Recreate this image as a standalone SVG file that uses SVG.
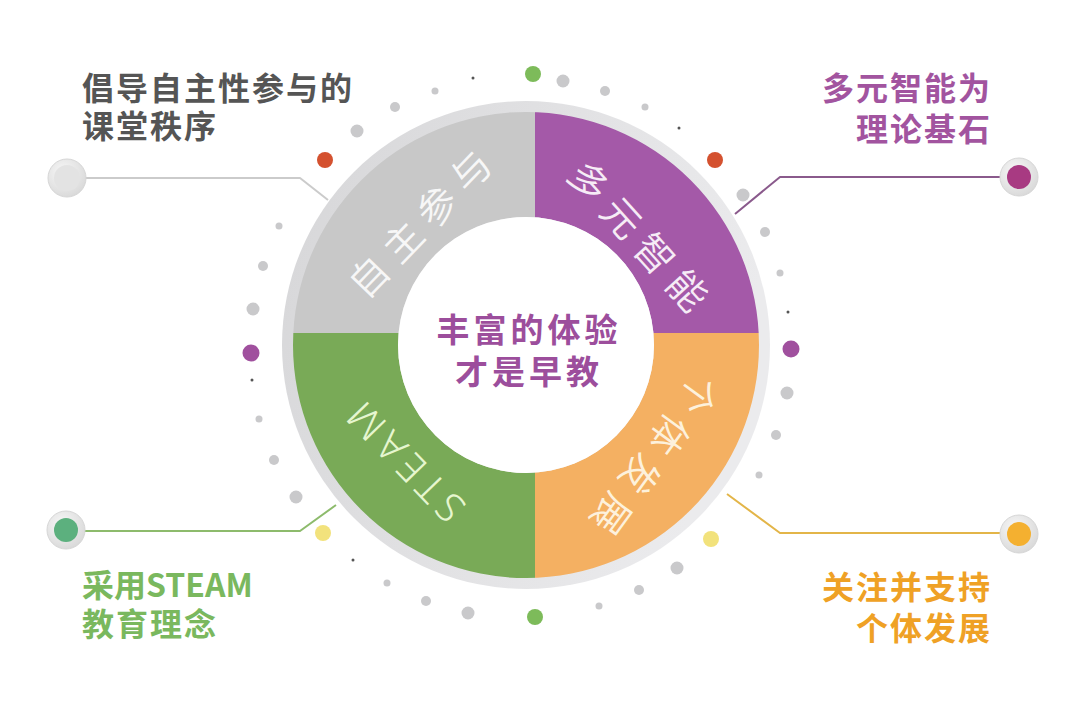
<svg xmlns="http://www.w3.org/2000/svg" width="1080" height="724" viewBox="0 0 1080 724">
<style>
.cn{font-family:"Noto Sans CJK SC","Noto Sans",sans-serif;}
.lbl{font-family:"Noto Sans CJK SC","Noto Sans",sans-serif;font-weight:bold;font-size:32px;letter-spacing:2px;}
.ring{font-family:"Noto Sans CJK SC","Noto Sans",sans-serif;font-weight:350;font-size:39px;letter-spacing:10px;text-anchor:middle;dominant-baseline:central;}
.g{fill:#c9c9cb}.d{fill:#555}.gr{fill:#7dbb5a}.rd{fill:#d4512f}.pu{fill:#a0509e}.ye{fill:#f2e27c}
.conn{fill:none;stroke-width:2;stroke-linejoin:round}
</style>
<defs>
<clipPath id="ann"><path clip-rule="evenodd" d="M293,345a233,233 0 1,0 466,0a233,233 0 1,0 -466,0ZM398,345a128,128 0 1,0 256,0a128,128 0 1,0 -256,0Z"/></clipPath>
<linearGradient id="og" x1="0" y1="0" x2="1" y2="0.3"><stop offset="0" stop-color="#d6d6d8"/><stop offset="1" stop-color="#ebebed"/></linearGradient>
<radialGradient id="nodeRing" cx="0.4" cy="0.35" r="0.7"><stop offset="0" stop-color="#f8f8f8"/><stop offset="1" stop-color="#d8d8d8"/></radialGradient>
</defs>
<rect width="1080" height="724" fill="#ffffff"/>

<g id="connectors">
<path class="conn" stroke="#cbcbcb" d="M85,178 L300,178 L328,200"/>
<path class="conn" stroke="#8a5a8c" d="M1000,177 L780,177 L735,214"/>
<path class="conn" stroke="#8dbb6c" d="M84,531 L300,531 L336,505"/>
<path class="conn" stroke="#e3b548" d="M1000,533 L780,533 L727,494"/>
</g>

<g id="dots">
<circle cx="533" cy="74" r="8" class="gr"/>
<circle cx="563" cy="81" r="6.5" class="g"/>
<circle cx="605" cy="91" r="5" class="g"/>
<circle cx="645" cy="107" r="3.5" class="g"/>
<circle cx="679" cy="128" r="1.5" class="d"/>
<circle cx="715" cy="160" r="8" class="rd"/>
<circle cx="743" cy="195" r="6.5" class="g"/>
<circle cx="765" cy="232" r="5" class="g"/>
<circle cx="780" cy="273" r="3.5" class="g"/>
<circle cx="788" cy="312" r="1.5" class="d"/>
<circle cx="791" cy="349" r="8.5" class="pu"/>
<circle cx="787" cy="393" r="6.5" class="g"/>
<circle cx="776" cy="435" r="5" class="g"/>
<circle cx="759" cy="475" r="3.5" class="g"/>
<circle cx="711" cy="539" r="8" class="ye"/>
<circle cx="677" cy="568" r="6.5" class="g"/>
<circle cx="639" cy="590" r="5" class="g"/>
<circle cx="599" cy="606" r="3.5" class="g"/>
<circle cx="535" cy="617" r="8" class="gr"/>
<circle cx="468" cy="613" r="6.5" class="g"/>
<circle cx="426" cy="601" r="5" class="g"/>
<circle cx="387" cy="583" r="3.5" class="g"/>
<circle cx="353" cy="560" r="1.5" class="d"/>
<circle cx="323" cy="533" r="8" class="ye"/>
<circle cx="296" cy="497" r="6.5" class="g"/>
<circle cx="274" cy="460" r="5" class="g"/>
<circle cx="259" cy="419" r="3.5" class="g"/>
<circle cx="252" cy="380" r="1.5" class="d"/>
<circle cx="251" cy="353" r="8.5" class="pu"/>
<circle cx="253" cy="309" r="6.5" class="g"/>
<circle cx="263" cy="266" r="5" class="g"/>
<circle cx="279" cy="226" r="3.5" class="g"/>
<circle cx="325" cy="160" r="8" class="rd"/>
<circle cx="357" cy="131" r="6.5" class="g"/>
<circle cx="395" cy="107" r="5" class="g"/>
<circle cx="435" cy="91" r="3.5" class="g"/>
<circle cx="473" cy="78" r="1.5" class="d"/>
</g>

<g id="wheel">
<circle cx="526" cy="345" r="244" fill="url(#og)"/>
<g clip-path="url(#ann)">
<rect x="280" y="100" width="255" height="233" fill="#c8c8c8"/>
<rect x="535" y="100" width="240" height="233" fill="#a459a8"/>
<rect x="280" y="333" width="255" height="260" fill="#79aa57"/>
<rect x="535" y="333" width="240" height="260" fill="#f4b062"/>
</g>
<circle cx="526" cy="345" r="128" fill="#ffffff"/>
</g>

<g id="seg-zizhu" transform="translate(418,222) rotate(-46)"><text class="ring" x="5" y="0" fill="#f7f7f7">自主参与</text></g>
<g id="seg-duoyuan" transform="translate(640,234) rotate(48)"><text class="ring" x="5" y="0" fill="#f6ecf6">多元智能</text></g>
<g id="seg-geti" transform="translate(657,456) rotate(126)"><text class="ring" x="5" y="0" fill="#fdf1dc">个体发展</text></g>
<g id="seg-steam" transform="translate(405,463) rotate(226)"><text x="3" y="0" font-family="'Noto Sans','Liberation Sans',sans-serif" font-weight="350" font-size="40" letter-spacing="6" text-anchor="middle" dominant-baseline="central" fill="#e6f6cf">STEAM</text></g>

<g id="center">
<text class="cn" x="527" font-size="33" font-weight="bold" letter-spacing="4" text-anchor="middle" fill="#9c4e9c"><tspan x="529" y="342">丰富的体验</tspan><tspan x="529" y="384">才是早教</tspan></text>
</g>

<g id="node-tl">
<circle cx="67" cy="178" r="19" fill="url(#nodeRing)" stroke="#d6d6d6" stroke-width="1"/>
<circle cx="67" cy="178" r="13" fill="#e3e3e3"/>
<text class="lbl" fill="#555555"><tspan x="82" y="100">倡导自主性参与的</tspan><tspan x="82" y="138">课堂秩序</tspan></text>
</g>

<g id="node-tr">
<circle cx="1019" cy="177" r="19" fill="url(#nodeRing)" stroke="#d6d6d6" stroke-width="1"/>
<circle cx="1019" cy="177" r="12" fill="#a83a82"/>
<text class="lbl" text-anchor="end" fill="#a2549f"><tspan x="992" y="100">多元智能为</tspan><tspan x="992" y="141">理论基石</tspan></text>
</g>

<g id="node-bl">
<circle cx="66" cy="530" r="19" fill="url(#nodeRing)" stroke="#d6d6d6" stroke-width="1"/>
<circle cx="66" cy="530" r="12" fill="#5cb07e"/>
<text class="lbl" fill="#7ab85e"><tspan x="82" y="597" style="letter-spacing:0px">采用STEAM</tspan><tspan x="82" y="636">教育理念</tspan></text>
</g>

<g id="node-br">
<circle cx="1019" cy="534" r="19" fill="url(#nodeRing)" stroke="#d6d6d6" stroke-width="1"/>
<circle cx="1019" cy="534" r="12" fill="#f4b030"/>
<text class="lbl" text-anchor="end" fill="#efa125"><tspan x="992" y="599">关注并支持</tspan><tspan x="992" y="640">个体发展</tspan></text>
</g>
</svg>
